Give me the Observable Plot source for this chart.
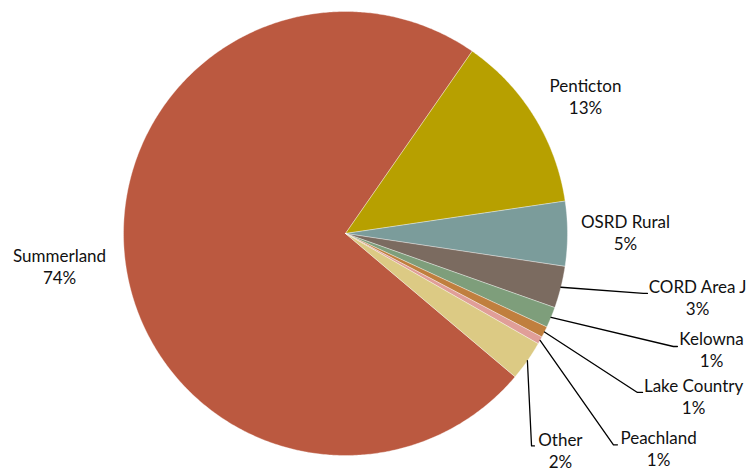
<!DOCTYPE html>
<html>
<head>
<meta charset="utf-8">
<script src="https://cdn.jsdelivr.net/npm/d3@7"></script>
<script src="https://cdn.jsdelivr.net/npm/@observablehq/plot@0.6"></script>
<style>
  html, body { margin: 0; padding: 0; background: #fff; }
  svg { display: block; }
</style>
</head>
<body>
<div id="chart"></div>
<script>
// ---- data ----
const categories = ["Summerland", "Penticton", "OSRD Rural", "CORD Area J", "Kelowna", "Lake Country", "Peachland", "Other"];
const shares = [73.5, 13.0, 4.7, 3.05, 1.5, 0.8, 0.55, 2.9];
const pctLabels = ["74%", "13%", "5%", "3%", "1%", "1%", "1%", "2%"];
const colors = ["#BB5940", "#B7A000", "#7B9C9B", "#7B6B60", "#7E9E7B", "#C07F3E", "#E09E98", "#DCCA84"];

// ---- layout (in pie-radius units, centre = 0,0) ----
const startAngleDeg = 130.2;
const labelPos = [[-1.288, -0.146], [1.081, 0.618], [1.261, 0.005], [1.586, -0.285], [1.649, -0.520], [1.568, -0.731], [1.410, -0.966], [0.968, -0.976]];
const leaderElbow = [null, null, null, [1.342, -0.270], [1.477, -0.509], [1.315, -0.716], [1.207, -0.952], [0.838, -0.957]];
const leaderEnd = [null, null, null, [1.360, -0.270], [1.495, -0.509], [1.338, -0.716], [1.225, -0.952], [0.851, -0.957]];

// ---- geometry from data ----
const rows = categories.map((name, i) => ({name, value: shares[i], pct: pctLabels[i], i}));
const arcs = d3.pie().sort(null).value(d => d.value)
  .startAngle(startAngleDeg * Math.PI / 180)
  .endAngle(startAngleDeg * Math.PI / 180 + 2 * Math.PI)(rows);

const slicePts = [];
arcs.forEach(a => {
  const name = a.data.name;
  slicePts.push({name, x: 0, y: 0});
  const n = Math.max(2, Math.ceil((a.endAngle - a.startAngle) / (Math.PI / 360)));
  for (let k = 0; k <= n; k++) {
    const t = a.startAngle + (a.endAngle - a.startAngle) * k / n;
    slicePts.push({name, x: Math.sin(t), y: Math.cos(t)});
  }
  slicePts.push({name, x: 0, y: 0});
});

const leaderPts = [];
arcs.forEach(a => {
  const i = a.data.i;
  if (!leaderElbow[i]) return;
  const m = (a.startAngle + a.endAngle) / 2;
  const name = a.data.name;
  leaderPts.push({name, x: Math.sin(m) * 1.0, y: Math.cos(m) * 1.0});
  leaderPts.push({name, x: leaderElbow[i][0], y: leaderElbow[i][1]});
  leaderPts.push({name, x: leaderEnd[i][0], y: leaderEnd[i][1]});
});

const labels = rows.map(d => ({text: d.name + "\n" + d.pct, x: labelPos[d.i][0], y: labelPos[d.i][1]}));

const W = 752, H = 473, R = 222, cx = 345, cy = 233;

const chart = Plot.plot({
  width: W,
  height: H,
  margin: 0,
  x: {domain: [-cx / R, (W - cx) / R], axis: null},
  y: {domain: [-(H - cy) / R, cy / R], axis: null},
  color: {domain: categories, range: colors},
  style: {fontFamily: "Lato, 'Open Sans', sans-serif", background: "#fff"},
  marks: [
    Plot.line(slicePts, {x: "x", y: "y", z: "name", fill: "name", stroke: "#ffffff", strokeWidth: 0.5, strokeOpacity: 0.7}),
    Plot.line(leaderPts, {x: "x", y: "y", z: "name", stroke: "#000", strokeWidth: 1.3}),
    Plot.text(labels, {x: "x", y: "y", text: "text", textAnchor: "middle", lineAnchor: "middle", fontSize: 17, lineHeight: 1.3, fill: "#111"})
  ]
});
document.getElementById("chart").appendChild(chart);
</script>
</body>
</html>
